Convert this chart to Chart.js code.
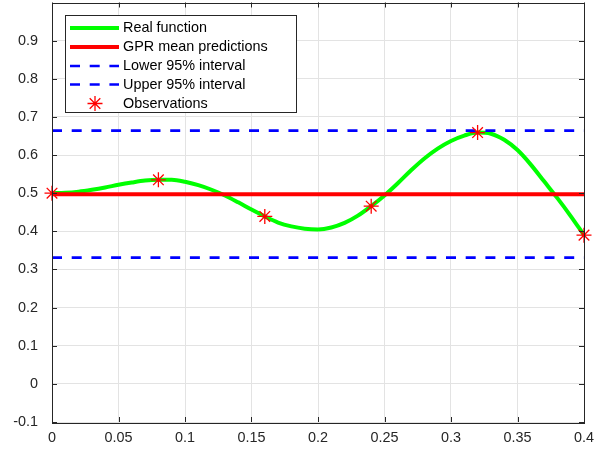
<!DOCTYPE html>
<html>
<head>
<meta charset="utf-8">
<script src="https://cdn.jsdelivr.net/npm/chart.js@4.4.1/dist/chart.umd.min.js"></script>
<style>
  html, body { margin: 0; padding: 0; background: #fff; }
  #wrap { width: 611px; height: 453px; position: relative; }
</style>
</head>
<body>
<div id="wrap"><canvas id="gpr-chart"></canvas></div>
<script>
// ---- data ----
const xReal = [0, 0.01, 0.02, 0.03, 0.04, 0.05, 0.06, 0.07, 0.08, 0.09,
               0.10, 0.11, 0.12, 0.13, 0.14, 0.15, 0.16, 0.17, 0.18, 0.19,
               0.20, 0.21, 0.22, 0.23, 0.24, 0.25, 0.26, 0.27, 0.28, 0.29,
               0.30, 0.31, 0.32, 0.33, 0.34, 0.35, 0.36, 0.37, 0.38, 0.39, 0.40];
const yReal = [0.500, 0.501, 0.504, 0.509, 0.515, 0.522, 0.528, 0.533, 0.535, 0.535,
               0.530, 0.521, 0.509, 0.494, 0.476, 0.457, 0.439, 0.423, 0.413, 0.407,
               0.405, 0.410, 0.422, 0.441, 0.466, 0.494, 0.526, 0.560, 0.591, 0.617,
               0.637, 0.651, 0.659, 0.656, 0.640, 0.613, 0.575, 0.531, 0.487, 0.440, 0.390];
const obsX = [0, 0.08, 0.16, 0.24, 0.32, 0.40];
const obsY = [0.500, 0.535, 0.439, 0.466, 0.659, 0.390];
const gprMean = 0.4975;
const lower95 = 0.331;
const upper95 = 0.664;
const xTicks = [0, 0.05, 0.1, 0.15, 0.2, 0.25, 0.3, 0.35, 0.4];
const yTicks = [-0.1, 0, 0.1, 0.2, 0.3, 0.4, 0.5, 0.6, 0.7, 0.8, 0.9];

const FONT = '"Liberation Sans", Arial, Helvetica, sans-serif';
const AXIS_COLOR = '#262626';
const GRID_COLOR = '#e3e3e3';

const pts = (xs, ys) => xs.map((x, i) => ({ x: x, y: ys[i] }));
const flat = (v) => [{ x: 0, y: v }, { x: 0.4, y: v }];
const noPad = (s) => { s.paddingLeft = 0; s.paddingRight = 0; s.paddingTop = 0; s.paddingBottom = 0; };

// ---- box + inward ticks (matlab style axes) ----
const boxAxes = {
  id: 'boxAxes',
  afterDatasetsDraw(chart) {
    const { ctx, chartArea: a, scales } = chart;
    const len = 5;
    ctx.save();
    ctx.strokeStyle = AXIS_COLOR;
    ctx.lineWidth = 1;
    ctx.beginPath();
    xTicks.forEach(v => {
      const px = Math.round(scales.x.getPixelForValue(v)) + 0.5;
      ctx.moveTo(px, a.bottom); ctx.lineTo(px, a.bottom - len);
      ctx.moveTo(px, a.top); ctx.lineTo(px, a.top + len);
    });
    yTicks.forEach(v => {
      const py = Math.round(scales.y.getPixelForValue(v)) + 0.5;
      ctx.moveTo(a.left, py); ctx.lineTo(a.left + len, py);
      ctx.moveTo(a.right, py); ctx.lineTo(a.right - len, py);
    });
    ctx.stroke();
    ctx.strokeRect(Math.round(a.left) + 0.5, Math.round(a.top) + 0.5,
                   Math.round(a.right - a.left), Math.round(a.bottom - a.top));
    ctx.restore();
  }
};

// ---- legend box in the upper left corner ----
const insideLegend = {
  id: 'insideLegend',
  afterDraw(chart) {
    const ctx = chart.ctx;
    const box = { x: 65.5, y: 15.5, w: 231, h: 97 };
    const rowY = [28, 47, 66, 84.5, 103.5];
    ctx.save();
    ctx.fillStyle = '#fff';
    ctx.fillRect(box.x, box.y, box.w, box.h);
    ctx.strokeStyle = AXIS_COLOR;
    ctx.lineWidth = 1;
    ctx.strokeRect(box.x, box.y, box.w, box.h);
    ctx.font = '14.4px ' + FONT;
    ctx.textBaseline = 'middle';
    chart.data.datasets.forEach((ds, i) => {
      const y = rowY[i];
      ctx.strokeStyle = ds.borderColor;
      if (ds.showLine === false) {
        // asterisk marker
        const cx = 95, r = ds.pointRadius, d = r * Math.SQRT1_2;
        ctx.lineWidth = ds.pointBorderWidth;
        ctx.beginPath();
        ctx.moveTo(cx, y - r); ctx.lineTo(cx, y + r);
        ctx.moveTo(cx - r, y); ctx.lineTo(cx + r, y);
        ctx.moveTo(cx - d, y - d); ctx.lineTo(cx + d, y + d);
        ctx.moveTo(cx - d, y + d); ctx.lineTo(cx + d, y - d);
        ctx.stroke();
      } else {
        ctx.lineWidth = ds.borderWidth;
        ctx.lineCap = 'butt';
        ctx.setLineDash(ds.borderDash || []);
        ctx.beginPath();
        ctx.moveTo(70, y); ctx.lineTo(119, y);
        ctx.stroke();
        ctx.setLineDash([]);
      }
      ctx.fillStyle = '#000';
      ctx.fillText(ds.label, 123, y + 0.5);
    });
    ctx.restore();
  }
};

new Chart(document.getElementById('gpr-chart'), {
  type: 'line',
  data: {
    datasets: [
      {
        label: 'Real function',
        data: pts(xReal, yReal),
        borderColor: '#00ff00',
        borderWidth: 4,
        pointRadius: 0,
        cubicInterpolationMode: 'monotone',
        order: 5
      },
      {
        label: 'GPR mean predictions',
        data: flat(gprMean),
        borderColor: '#ff0000',
        borderWidth: 4,
        pointRadius: 0,
        order: 4
      },
      {
        label: 'Lower 95% interval',
        data: flat(lower95),
        borderColor: '#0000ff',
        borderWidth: 2.7,
        borderDash: [10, 9.7],
        pointRadius: 0,
        order: 3
      },
      {
        label: 'Upper 95% interval',
        data: flat(upper95),
        borderColor: '#0000ff',
        borderWidth: 2.7,
        borderDash: [10, 9.7],
        pointRadius: 0,
        order: 2
      },
      {
        label: 'Observations',
        data: pts(obsX, obsY),
        showLine: false,
        borderColor: '#ff0000',
        backgroundColor: '#ff0000',
        pointStyle: 'star',
        pointRadius: 7.5,
        pointBorderWidth: 1.3,
        clip: false,
        order: 1
      }
    ]
  },
  options: {
    responsive: true,
    maintainAspectRatio: false,
    animation: false,
    events: [],
    layout: { autoPadding: false, padding: { top: 2.5, right: 27, bottom: 0, left: 0 } },
    plugins: {
      legend: { display: false },
      tooltip: { enabled: false }
    },
    scales: {
      x: {
        type: 'linear',
        min: 0,
        max: 0.4,
        afterBuildTicks: (scale) => { scale.ticks = xTicks.map(v => ({ value: v })); },
        afterFit: (scale) => { scale.height = 31; noPad(scale); },
        border: { display: false },
        grid: { color: GRID_COLOR, lineWidth: 1, drawTicks: false },
        ticks: {
          color: AXIS_COLOR,
          font: { family: FONT, size: 14.4 },
          padding: 7,
          maxRotation: 0,
          callback: (v) => String(v)
        }
      },
      y: {
        type: 'linear',
        min: -0.1,
        max: 1.0,
        afterBuildTicks: (scale) => { scale.ticks = yTicks.map(v => ({ value: v })); },
        afterFit: (scale) => { scale.width = 52; noPad(scale); },
        border: { display: false },
        grid: { color: GRID_COLOR, lineWidth: 1, drawTicks: false },
        ticks: {
          color: AXIS_COLOR,
          font: { family: FONT, size: 14.4 },
          padding: 14,
          callback: (v) => String(v)
        }
      }
    }
  },
  plugins: [boxAxes, insideLegend]
});
</script>
</body>
</html>
